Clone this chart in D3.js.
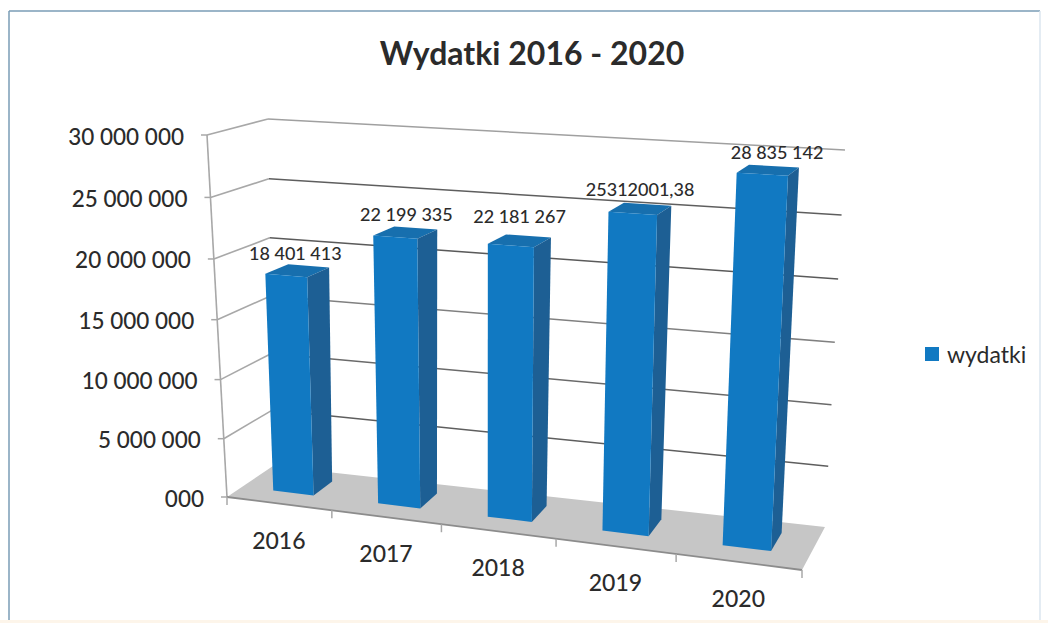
<!DOCTYPE html>
<html><head><meta charset="utf-8">
<script src="https://cdn.jsdelivr.net/npm/d3@7"></script>
<style>html,body{margin:0;padding:0;background:#fff}svg{display:block}text{font-family:Lato,"Open Sans",sans-serif;fill:#2b2b2b}</style>
</head><body><svg id="c" width="1048" height="623"></svg>
<script>
const categories = ["2016","2017","2018","2019","2020"];
const values = [18401413,22199335,22181267,25312001.38,28835142];
const valueLabels = ["18 401 413","22 199 335","22 181 267","25312001,38","28 835 142"];
const yTickValues = [0,5000000,10000000,15000000,20000000,25000000,30000000];
const yTickLabels = ["000","5 000 000","10 000 000","15 000 000","20 000 000","25 000 000","30 000 000"];
const seriesName = "wydatki";
const titleText = "Wydatki 2016 - 2020";

// manual data-label displacement as seen in the source
const labelNudgeX = [-2,1,0,0,9];
const labelNudgeY = [-18,-18,-25,-20,-18];
const gridColors = ["#9a9a9a","#5e5e5e","#6a6a6a","#808080","#5a5a5a","#5e5e5e","#a0a0a0"];

const svg = d3.select("#c");
const W=1048,H=623;

// projected box corners: [depth][height] at each end of the category axis
const C = {
  fbl:[227,497], fbr:[802,570], bbl:[273,466], bbr:[825,527],
  ftl:[207,135], ftr:[822,168], btl:[268,119], btr:[845,150]
};
const warp = a => t => a*t/(1+(a-1)*t);
const wu = warp(0.892), wv = warp(0.96);
const lerp = (p,q,t)=>[p[0]+(q[0]-p[0])*t,p[1]+(q[1]-p[1])*t];
function P(u,d,v){
  const U=wu(u),V=wv(v);
  const fb=lerp(C.fbl,C.fbr,U), bb=lerp(C.bbl,C.bbr,U), ft=lerp(C.ftl,C.ftr,U), bt=lerp(C.btl,C.btr,U);
  return lerp(lerp(fb,bb,d),lerp(ft,bt,d),V);
}
const y = d3.scaleLinear().domain([0,30000000]).range([0,1]);
const x = d3.scaleBand().domain(categories).range([0,1]).paddingInner(0.61).paddingOuter(0.305);
const poly = pts => d3.line()(pts)+"Z";
const D0=0.33,D1=0.76;

// frame
svg.append("line").attr("x1",9).attr("y1",11).attr("x2",1040).attr("y2",11).attr("stroke","#7a9cb6").attr("stroke-width",1.5);
svg.append("line").attr("x1",9).attr("y1",11).attr("x2",9).attr("y2",620).attr("stroke","#7a9cb6").attr("stroke-width",1.5);
svg.append("line").attr("x1",1040).attr("y1",11).attr("x2",1040).attr("y2",620).attr("stroke","#dbe6ef").attr("stroke-width",1.5);
svg.append("rect").attr("x",0).attr("y",620).attr("width",W).attr("height",3).attr("fill","#fdf5ea");

// title
svg.append("text").attr("x",532).attr("y",65).attr("text-anchor","middle").attr("font-size",32).attr("font-weight",700).attr("fill","#222").text(titleText);

// floor
svg.append("path").attr("d",poly([P(0,0,0),P(1,0,0),P(1,1,0),P(0,1,0)])).attr("fill","#c6c6c6");

// walls grid
const g = svg.append("g").attr("fill","none");
yTickValues.forEach((t,i)=>{
  if(i>0) g.append("path").attr("d",d3.line()([P(0,0,y(t)),P(0,1,y(t))])).attr("stroke","#a8a8a8").attr("stroke-width",1.6);
  if(i>0) g.append("path").attr("d",d3.line()([P(0,1,y(t)),P(1,1,y(t))])).attr("stroke",gridColors[i]).attr("stroke-width",1.5);
  const a=P(0,0,y(t));
  g.append("line").attr("x1",a[0]-6).attr("y1",a[1]).attr("x2",a[0]).attr("y2",a[1]).attr("stroke","#a8a8a8").attr("stroke-width",1.5);
  svg.append("text").attr("x",a[0]-23).attr("y",a[1]+1).attr("text-anchor","end").attr("dominant-baseline","central").attr("font-size",22.5).attr("font-weight",500).attr("fill","#222").text(yTickLabels[i]);
});
// axis lines
g.append("path").attr("d",d3.line()([P(0,0,0),P(0,0,1)])).attr("stroke","#a8a8a8").attr("stroke-width",1.6);
g.append("path").attr("d",d3.line()([P(0,0,0),P(1,0,0)])).attr("stroke","#8c8c8c").attr("stroke-width",1.8);
d3.range(0,6).forEach(i=>{
  const a=P(i/5,0,0);
  g.append("line").attr("x1",a[0]).attr("y1",a[1]).attr("x2",a[0]).attr("y2",a[1]+8).attr("stroke","#a8a8a8").attr("stroke-width",1.5);
});

// bars
categories.forEach((c,i)=>{
  const u0=x(c),u1=x(c)+x.bandwidth(),h=y(values[i]);
  svg.append("path").attr("d",poly([P(u0,D0,h),P(u1,D0,h),P(u1,D1,h),P(u0,D1,h)])).attr("fill","#176fae");
  svg.append("path").attr("d",poly([P(u1,D0,0),P(u1,D1,0),P(u1,D1,h),P(u1,D0,h)])).attr("fill","#1d5f94");
  svg.append("path").attr("d",poly([P(u0,D0,0),P(u1,D0,0),P(u1,D0,h),P(u0,D0,h)])).attr("fill","#1179c2");
});

// value labels
categories.forEach((c,i)=>{
  const uc=x(c)+x.bandwidth()/2,t=P(uc,(D0+D1)/2,y(values[i]));
  svg.append("text").attr("x",t[0]+labelNudgeX[i]).attr("y",t[1]+labelNudgeY[i]).attr("text-anchor","middle").attr("dominant-baseline","central").attr("font-size",18).attr("font-weight",500).text(valueLabels[i]);
});

// category labels
categories.forEach((c,i)=>{
  const a=P(x(c)+x.bandwidth()/2,0,0);
  svg.append("text").attr("x",a[0]).attr("y",a[1]+36).attr("text-anchor","middle").attr("dominant-baseline","central").attr("font-size",23).attr("font-weight",500).text(c);
});

// legend
svg.append("rect").attr("x",925).attr("y",347).attr("width",14).attr("height",14).attr("fill","#1179c2");
svg.append("text").attr("x",947).attr("y",354).attr("dominant-baseline","central").attr("font-size",23).text(seriesName);
</script></body></html>
